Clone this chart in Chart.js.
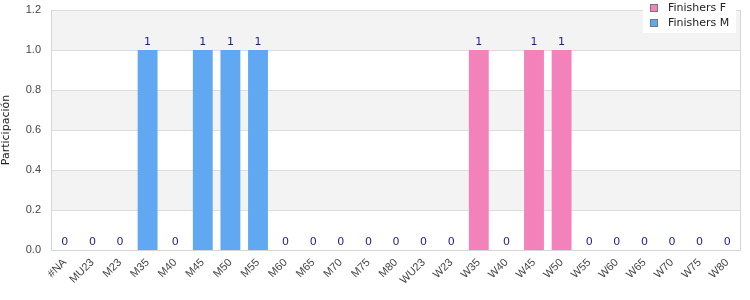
<!DOCTYPE html>
<html><head><meta charset="utf-8">
<script src="https://cdn.jsdelivr.net/npm/chart.js@4"></script>
<style>html,body{margin:0;padding:0;background:#fff}#wrap{width:750px;height:300px}</style>
</head><body><div id="wrap"><canvas id="c" width="750" height="300"></canvas></div>
<script>
const categories = ['#NA','MU23','M23','M35','M40','M45','M50','M55','M60','M65','M70','M75','M80','WU23','W23','W35','W40','W45','W50','W55','W60','W65','W70','W75','W80'];
const finishersF = [0,0,0,0,0,0,0,0,0,0,0,0,0,0,0,1,0,1,1,0,0,0,0,0,0];
const finishersM = [0,0,0,1,0,1,1,1,0,0,0,0,0,0,0,0,0,0,0,0,0,0,0,0,0];
const yTicks = [0,0.2,0.4,0.6,0.8,1.0,1.2];

const PINK = '#f282b9', BLUE = '#61a8f3';

const bands = {
  id: 'bands',
  beforeDatasetsDraw(chart) {
    const {ctx, chartArea: a, scales: {y}} = chart;
    ctx.save();
    for (let i = 0; i < yTicks.length - 1; i++) {
      if (i % 2 === 1) {
        const top = y.getPixelForValue(yTicks[i+1]), bot = y.getPixelForValue(yTicks[i]);
        ctx.fillStyle = '#f3f3f3';
        ctx.fillRect(a.left, top, a.right - a.left, bot - top);
      }
    }
    ctx.strokeStyle = '#dddddd'; ctx.lineWidth = 1;
    for (let i = 1; i < yTicks.length; i++) {
      const p = Math.round(y.getPixelForValue(yTicks[i])) + 0.5;
      ctx.beginPath(); ctx.moveTo(a.left, p); ctx.lineTo(a.right, p); ctx.stroke();
    }
    ctx.strokeStyle = '#d6d6d6';
    ctx.beginPath();
    ctx.moveTo(Math.round(a.left)+0.5, a.top); ctx.lineTo(Math.round(a.left)+0.5, a.bottom);
    ctx.moveTo(Math.round(a.right)-0.5, a.top); ctx.lineTo(Math.round(a.right)-0.5, a.bottom);
    ctx.moveTo(a.left, Math.round(a.bottom)+0.5); ctx.lineTo(a.right, Math.round(a.bottom)+0.5);
    ctx.stroke();
    ctx.restore();
  }
};

const labels = {
  id: 'vlabels',
  afterDatasetsDraw(chart) {
    const {ctx, scales: {x, y}} = chart;
    ctx.save();
    ctx.font = '11px "DejaVu Sans"';
    ctx.fillStyle = '#1f1f8f';
    ctx.textAlign = 'center';
    ctx.textBaseline = 'alphabetic';
    categories.forEach((c, i) => {
      const t = finishersF[i] + finishersM[i];
      ctx.fillText(String(t), x.getPixelForValue(i), y.getPixelForValue(t) - 5);
    });
    ctx.restore();
  },
  afterDraw(chart) {
    const {ctx} = chart;
    ctx.save();
    ctx.fillStyle = '#ffffff';
    ctx.fillRect(643, 0, 93, 33);
    const items = chart.data.datasets;
    ctx.font = '11px "DejaVu Sans"';
    ctx.textBaseline = 'middle';
    ctx.textAlign = 'left';
    items.forEach((d, i) => {
      const yy = 8 + i * 15;
      ctx.fillStyle = d.backgroundColor;
      ctx.fillRect(651, yy - 3, 6, 6);
      ctx.strokeStyle = '#777'; ctx.lineWidth = 1;
      ctx.strokeRect(650.5, yy - 3.5, 7, 7);
      ctx.fillStyle = '#222';
      ctx.fillText(d.label, 668, yy);
    });
    ctx.restore();
  }
};

new Chart(document.getElementById('c'), {
  type: 'bar',
  data: {
    labels: categories,
    datasets: [
      {label: 'Finishers F', data: finishersF, backgroundColor: PINK, barPercentage: 0.72, categoryPercentage: 1},
      {label: 'Finishers M', data: finishersM, backgroundColor: BLUE, barPercentage: 0.72, categoryPercentage: 1}
    ]
  },
  options: {
    responsive: false, animation: false,
    layout: {padding: {top: 10, right: 9, left: 0, bottom: 0}},
    plugins: {legend: {display: false}, tooltip: {enabled: false}},
    scales: {
      x: {
        stacked: true,
        grid: {display: false, drawTicks: false},
        border: {display: false},
        ticks: {autoSkip: false, maxRotation: 45, minRotation: 45, padding: 6, color: '#444', font: {family: '"Liberation Sans"', size: 11}},
        afterFit(s) { s.height = 50; s.paddingLeft = 0; s.paddingRight = 0; }
      },
      y: {
        stacked: true,
        min: 0, max: 1.2,
        grid: {display: false, drawTicks: false},
        border: {display: false},
        ticks: {stepSize: 0.2, padding: 10, color: '#444', font: {family: '"Liberation Sans"', size: 11}, callback: v => Number(v).toFixed(1)},
        title: {display: true, text: 'Participación', color: '#222', font: {family: '"DejaVu Sans"', size: 11}, padding: {top: 0, bottom: 0}},
        afterFit(s) { s.width = 51; s.paddingTop = 0; s.paddingBottom = 0; }
      }
    }
  },
  plugins: [bands, labels]
});
</script></body></html>
